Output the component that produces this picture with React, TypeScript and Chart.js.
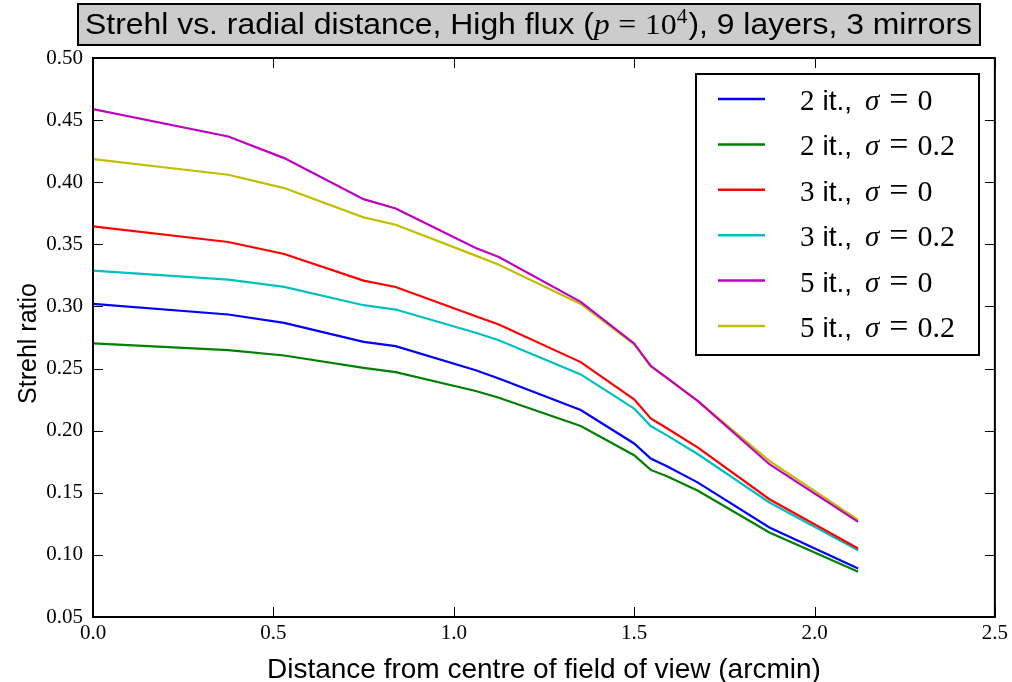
import React, { useEffect, useRef } from "react";
import { Chart, registerables } from "chart.js";

Chart.register(...registerables);

// Radial distances (arcmin)
const distances = [0, 0.375, 0.53, 0.75, 0.839, 1.061, 1.125, 1.352, 1.5, 1.546, 1.591, 1.677, 1.875, 2.121];

// Strehl ratio series
const it2sig0 = [0.302, 0.2935, 0.2868, 0.2715, 0.268, 0.2487, 0.242, 0.2166, 0.1897, 0.1775, 0.1713, 0.1582, 0.1221, 0.0891];
const it2sig02 = [0.2702, 0.2648, 0.2605, 0.2506, 0.2471, 0.2319, 0.2265, 0.2037, 0.1802, 0.1684, 0.1633, 0.1516, 0.1181, 0.0864];
const it3sig0 = [0.3645, 0.3519, 0.3422, 0.3208, 0.3157, 0.2921, 0.2854, 0.2552, 0.2252, 0.2099, 0.2019, 0.1864, 0.1448, 0.1052];
const it3sig02 = [0.3288, 0.3216, 0.3157, 0.301, 0.2975, 0.2788, 0.2728, 0.2453, 0.2178, 0.2037, 0.1962, 0.181, 0.1422, 0.1038];
const it5sig0 = [0.4588, 0.4368, 0.4194, 0.3864, 0.3789, 0.3471, 0.3398, 0.3037, 0.2702, 0.2522, 0.2425, 0.2238, 0.173, 0.1266];
const it5sig02 = [0.4186, 0.406, 0.3953, 0.3717, 0.3658, 0.3409, 0.3336, 0.302, 0.2694, 0.2516, 0.2423, 0.2238, 0.1757, 0.1282];

const seriesIters = ["2", "2", "3", "3", "5", "5"];
const seriesSigmas = ["0", "0.2", "0", "0.2", "0", "0.2"];
const seriesColors = ["#0000ff", "#008000", "#ff0000", "#00bfbf", "#bf00bf", "#bfbf00"];
const seriesValues = [it2sig0, it2sig02, it3sig0, it3sig02, it5sig0, it5sig02];

const xTickStep = 0.5;
const yTickStep = 0.05;

const SERIF = "'Liberation Serif', 'DejaVu Serif', serif";
const SANS = "'Liberation Sans', Arial, sans-serif";

type Run = { text: string; font: string; dy?: number; gap?: number };

function runsWidth(ctx: CanvasRenderingContext2D, runs: Run[]) {
  let w = 0;
  for (const r of runs) {
    ctx.font = r.font;
    w += ctx.measureText(r.text).width + (r.gap || 0);
  }
  return w;
}

function drawRuns(ctx: CanvasRenderingContext2D, runs: Run[], x: number, y: number) {
  let cx = x;
  for (const r of runs) {
    ctx.font = r.font;
    ctx.fillText(r.text, cx, y + (r.dy || 0));
    cx += ctx.measureText(r.text).width + (r.gap || 0);
  }
}

const decorPlugin = {
  id: "decor",
  afterDraw(chart: any) {
    const ctx: CanvasRenderingContext2D = chart.ctx;
    const { left, right, top, bottom } = chart.chartArea;
    const xs = chart.scales.x;
    const ys = chart.scales.y;
    ctx.save();
    // inward ticks on all sides
    ctx.strokeStyle = "#000";
    ctx.lineWidth = 1;
    const tl = 10;
    xs.ticks.forEach((t: any) => {
      const px = Math.round(xs.getPixelForValue(t.value)) + 0.5;
      ctx.beginPath();
      ctx.moveTo(px, bottom);
      ctx.lineTo(px, bottom - tl);
      ctx.moveTo(px, top);
      ctx.lineTo(px, top + tl);
      ctx.stroke();
    });
    ys.ticks.forEach((t: any) => {
      const py = Math.round(ys.getPixelForValue(t.value)) + 0.5;
      ctx.beginPath();
      ctx.moveTo(left, py);
      ctx.lineTo(left + tl, py);
      ctx.moveTo(right, py);
      ctx.lineTo(right - tl, py);
      ctx.stroke();
    });
    // frame
    ctx.lineWidth = 2;
    ctx.strokeRect(left, top, right - left, bottom - top);

    // legend
    const lx0 = 696, ly0 = 74, lx1 = 979, ly1 = 355;
    ctx.fillStyle = "#fff";
    ctx.fillRect(lx0, ly0, lx1 - lx0, ly1 - ly0);
    ctx.strokeStyle = "#000";
    ctx.lineWidth = 2;
    ctx.strokeRect(lx0, ly0, lx1 - lx0, ly1 - ly0);
    chart.data.datasets.forEach((ds: any, i: number) => {
      const cy = 99 + i * 45.4;
      ctx.strokeStyle = ds.borderColor;
      ctx.lineWidth = 2.5;
      ctx.beginPath();
      ctx.moveTo(718, cy);
      ctx.lineTo(765, cy);
      ctx.stroke();
      ctx.fillStyle = "#000";
      ctx.textBaseline = "alphabetic";
      ctx.textAlign = "left";
      const runs: Run[] = [
        { text: seriesIters[i], font: `29px ${SERIF}`, gap: 8 },
        { text: "it.,", font: `28px ${SANS}`, gap: 13 },
        { text: "σ", font: `italic 29px ${SERIF}`, gap: 10 },
        { text: "=", font: `34px ${SERIF}`, gap: 9 },
        { text: seriesSigmas[i], font: `30px ${SERIF}` },
      ];
      drawRuns(ctx, runs, 800, cy + 11);
    });

    // title box
    const tx0 = 78, ty0 = 4, tx1 = 980, ty1 = 45;
    ctx.fillStyle = "#cccccc";
    ctx.fillRect(tx0, ty0, tx1 - tx0, ty1 - ty0);
    ctx.strokeStyle = "#000";
    ctx.lineWidth = 2;
    ctx.strokeRect(tx0, ty0, tx1 - tx0, ty1 - ty0);
    const titleRuns: Run[] = [
      { text: "Strehl vs. radial distance, High flux (", font: `30px ${SANS}` },
      { text: "p", font: `italic 30px ${SERIF}`, gap: 8 },
      { text: "=", font: `30px ${SERIF}`, gap: 8 },
      { text: "10", font: `30px ${SERIF}` },
      { text: "4", font: `20px ${SERIF}`, dy: -11, gap: 1 },
      { text: "), 9 layers, 3 mirrors", font: `30px ${SANS}` },
    ];
    const w = runsWidth(ctx, titleRuns);
    const target = 887;
    ctx.save();
    ctx.fillStyle = "#000";
    ctx.translate(85, 33.5);
    ctx.scale(target / w, 1);
    drawRuns(ctx, titleRuns, 0, 0);
    ctx.restore();

    // axis titles
    ctx.fillStyle = "#000";
    ctx.font = `28px ${SANS}`;
    ctx.textAlign = "center";
    ctx.textBaseline = "alphabetic";
    ctx.fillText("Distance from centre of field of view (arcmin)", (left + right) / 2, 678);
    ctx.save();
    ctx.translate(36, (top + bottom) / 2 + 6);
    ctx.rotate(-Math.PI / 2);
    ctx.font = `25px ${SANS}`;
    ctx.fillText("Strehl ratio", 0, 0);
    ctx.restore();

    ctx.restore();
  },
};

export default function App() {
  const ref = useRef<HTMLCanvasElement | null>(null);
  useEffect(() => {
    document.body.style.margin = "0";
    const canvas = ref.current;
    if (!canvas) return;
    const datasets = seriesValues.map((vals, i) => ({
      label: `${seriesIters[i]} it., σ = ${seriesSigmas[i]}`,
      data: distances.map((d, j) => ({ x: d, y: vals[j] })),
      borderColor: seriesColors[i],
      backgroundColor: seriesColors[i],
      borderWidth: 2.2,
      pointRadius: 0,
      tension: 0,
      fill: false,
    }));
    const chart = new Chart(canvas, {
      type: "line",
      data: { datasets },
      options: {
        animation: false,
        responsive: false,
        devicePixelRatio: 1,
        layout: { padding: { top: 58, right: 17, left: 0, bottom: 0 } },
        plugins: { legend: { display: false }, title: { display: false }, tooltip: { enabled: false } },
        scales: {
          x: {
            type: "linear",
            min: 0,
            max: 2.5,
            ticks: {
              stepSize: xTickStep,
              color: "#000",
              font: { family: SERIF, size: 21 },
              padding: 4,
              maxRotation: 0,
              callback: (v: any) => Number(v).toFixed(1),
            },
            grid: { display: false, drawTicks: false },
            border: { display: false },
            afterFit: (s: any) => { s.height = 65; },
          },
          y: {
            type: "linear",
            min: 0.05,
            max: 0.5,
            ticks: {
              stepSize: yTickStep,
              color: "#000",
              font: { family: SERIF, size: 21 },
              padding: 10,
              callback: (v: any) => Number(v).toFixed(2),
            },
            grid: { display: false, drawTicks: false },
            border: { display: false },
            afterFit: (s: any) => { s.width = 93; },
          },
        },
      },
      plugins: [decorPlugin],
    });
    return () => chart.destroy();
  }, []);
  return <canvas ref={ref} width={1012} height={682} style={{ display: "block" }} />;
}
